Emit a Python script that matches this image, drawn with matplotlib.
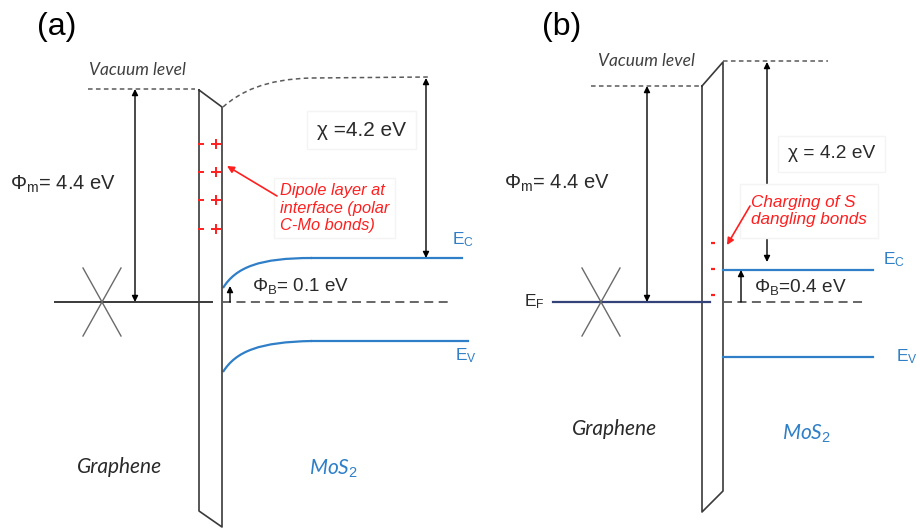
import matplotlib
matplotlib.use("Agg")
import matplotlib.pyplot as plt
from matplotlib.path import Path
from matplotlib.patches import PathPatch

plt.rcParams['font.family'] = ['Liberation Sans', 'DejaVu Sans']
plt.rcParams['mathtext.fontset'] = 'custom'
plt.rcParams['mathtext.rm'] = 'Liberation Sans'
plt.rcParams['mathtext.it'] = 'Liberation Sans:italic'

# ---------------- data (schematic geometry, pixel units) -------------
panel_labels = ["(a)", "(b)"]
panel_label_xy = [(57, 27), (562, 27)]

# energy values shown on the diagram
phi_m_values = [4.4, 4.4]
chi_values = [4.2, 4.2]
phi_b_values = [0.1, 0.4]

# panel (a)
a_vac_left_x = [88, 195]
a_vac_left_y = [89, 89]
a_slab_x = [199, 199, 222, 222, 199]
a_slab_y = [90, 511, 527, 107, 90]
a_vac_curve = [(223, 107), (240, 92), (265, 79), (312, 78)]
a_vac_flat_x = [312, 428]
a_vac_flat_y = [78, 77]
a_ec_curve = [(223, 288), (236, 267), (260, 258), (312, 258)]
a_ec_flat_x = [312, 462]
a_ec_flat_y = [258, 258]
a_ev_curve = [(223, 372), (236, 351), (260, 342), (312, 341)]
a_ev_flat_x = [312, 468]
a_ev_flat_y = [341, 341]
a_fermi_solid_x = [55, 212]
a_fermi_dash_x = [222, 449]
a_fermi_y = 302
a_cone_center = (102, 302)
a_phim_arrow = (135, 89, 302)
a_chi_arrow = (426, 78, 258)
a_phib_arrow = (230, 302, 286)
a_charge_y = [144, 172, 200, 229]

# panel (b)
b_vac_left_x = [591, 701]
b_vac_left_y = [86, 86]
b_slab_x = [702, 702, 723, 723, 702]
b_slab_y = [86, 512, 491, 62, 86]
b_vac_right_x = [723, 828]
b_vac_right_y = [61, 61]
b_ec_x = [723, 873]
b_ec_y = [270, 270]
b_ev_x = [723, 873]
b_ev_y = [357, 357]
b_fermi_solid_x = [553, 710]
b_fermi_dash_x = [723, 866]
b_fermi_y = 302
b_cone_center = (601, 302)
b_phim_arrow = (647, 86, 302)
b_chi_arrow = (767, 62, 262)
b_phib_arrow = (741, 302, 270)
b_charge_y = [243, 269, 295]

# ---------------- styles -------------
BLACK = '#3a3a3a'
GRAY = '#5a5a5a'
BLUE = '#2f7fc8'
RED = '#ff1f1f'
NAVY = '#34427a'
TXT = '#2a2a2a'
BOXEDGE = '#f4f4f4'

fig = plt.figure(figsize=(9.17, 5.28), dpi=100)
ax = fig.add_axes([0, 0, 1, 1])
ax.set_xlim(0, 917)
ax.set_ylim(528, 0)
ax.axis('off')


def bezier(pts, **kw):
    codes = [Path.MOVETO, Path.CURVE4, Path.CURVE4, Path.CURVE4]
    ax.add_patch(PathPatch(Path(pts, codes), fill=False, **kw))


def darrow(x, y0, y1, both=True):
    style = '<|-|>' if both else '-|>'
    ax.annotate('', xy=(x, y1), xytext=(x, y0),
                arrowprops=dict(arrowstyle=style, color='black', lw=1.0,
                                mutation_scale=9, shrinkA=0, shrinkB=0))


def cone(c):
    cx, cy = c
    ax.plot([cx - 19, cx + 19], [cy - 34, cy + 34], color='#6a6a6a', lw=1.0)
    ax.plot([cx - 19, cx + 19], [cy + 34, cy - 34], color='#6a6a6a', lw=1.0)


# panel labels
for lab, (x, y) in zip(panel_labels, panel_label_xy):
    ax.text(x, y, lab, fontsize=23, ha='center', va='center', color='black')

# ---------- panel (a) ----------
ax.plot(a_vac_left_x, a_vac_left_y, ls=(0, (3, 2.2)), color=GRAY, lw=1.1)
ax.plot(a_slab_x, a_slab_y, color=BLACK, lw=1.2)
bezier(a_vac_curve, ls=(0, (3, 2.2)), edgecolor=GRAY, lw=1.1)
ax.plot(a_vac_flat_x, a_vac_flat_y, ls=(0, (3, 2.2)), color=GRAY, lw=1.1)
bezier(a_ec_curve, edgecolor=BLUE, lw=1.6)
ax.plot(a_ec_flat_x, a_ec_flat_y, color=BLUE, lw=1.6)
bezier(a_ev_curve, edgecolor=BLUE, lw=1.6)
ax.plot(a_ev_flat_x, a_ev_flat_y, color=BLUE, lw=1.6)
ax.plot(a_fermi_solid_x, [a_fermi_y] * 2, color=BLACK, lw=1.4)
ax.plot(a_fermi_dash_x, [a_fermi_y] * 2, ls=(0, (5, 3)), color=GRAY, lw=1.3)
cone(a_cone_center)
darrow(a_phim_arrow[0], a_phim_arrow[1], a_phim_arrow[2])
darrow(a_chi_arrow[0], a_chi_arrow[1], a_chi_arrow[2])
darrow(a_phib_arrow[0], a_phib_arrow[1], a_phib_arrow[2], both=False)
for y in a_charge_y:
    ax.plot([198, 204], [y, y], color=RED, lw=1.4, solid_capstyle='butt')
    ax.plot([211, 221], [y, y], color=RED, lw=1.4, solid_capstyle='butt')
    ax.plot([216, 216], [y - 5, y + 5], color=RED, lw=1.4, solid_capstyle='butt')

ax.text(137, 70, 'Vacuum level', fontsize=12.5, family='Lato', style='italic',
        color='#404040', ha='center', va='center')
ax.text(10, 184, r'$\Phi_{\mathrm{m}}$= ' + f'{phi_m_values[0]} eV', fontsize=14.5,
        color=TXT, ha='left', va='center')
ax.text(317, 130, 'χ =' + f'{chi_values[0]} eV', fontsize=15,
        color=TXT, ha='left', va='center',
        bbox=dict(facecolor='white', edgecolor=BOXEDGE, pad=7))
ax.text(252, 286, r'$\Phi_{\mathrm{B}}$= ' + f'{phi_b_values[0]} eV', fontsize=13.6,
        color=TXT, ha='left', va='center')
ax.text(280, 208, 'Dipole layer at\ninterface (polar\nC-Mo bonds)', fontsize=11.8,
        style='italic', color=RED, ha='left', va='center', linespacing=1.2,
        bbox=dict(facecolor='white', edgecolor=BOXEDGE, pad=4))
ax.annotate('', xy=(227, 166), xytext=(277, 196),
            arrowprops=dict(arrowstyle='-|>', color=RED, lw=1.2,
                            mutation_scale=10, shrinkA=0, shrinkB=0))
ax.text(452, 240, r'E$_{\mathrm{C}}$', fontsize=12.5, color=BLUE, ha='left', va='center')
ax.text(455, 356, r'E$_{\mathrm{V}}$', fontsize=12.5, color=BLUE, ha='left', va='center')
ax.text(120, 467, 'Graphene', fontsize=15, family='Lato', style='italic',
        color=TXT, ha='center', va='center')
ax.text(334, 469, r'MoS$_2$', fontsize=15, family='Lato', style='italic',
        color=BLUE, ha='center', va='center')

# ---------- panel (b) ----------
ax.plot(b_vac_left_x, b_vac_left_y, ls=(0, (3, 2.2)), color=GRAY, lw=1.1)
ax.plot(b_vac_right_x, b_vac_right_y, ls=(0, (3, 2.2)), color=GRAY, lw=1.1)
ax.plot(b_slab_x, b_slab_y, color=BLACK, lw=1.2)
ax.plot(b_ec_x, b_ec_y, color=BLUE, lw=1.6)
ax.plot(b_ev_x, b_ev_y, color=BLUE, lw=1.6)
ax.plot(b_fermi_solid_x, [b_fermi_y] * 2, color=NAVY, lw=1.6)
ax.plot(b_fermi_dash_x, [b_fermi_y] * 2, ls=(0, (5, 3)), color=GRAY, lw=1.3)
cone(b_cone_center)
darrow(b_phim_arrow[0], b_phim_arrow[1], b_phim_arrow[2])
darrow(b_chi_arrow[0], b_chi_arrow[1], b_chi_arrow[2])
darrow(b_phib_arrow[0], b_phib_arrow[1], b_phib_arrow[2], both=False)
for y in b_charge_y:
    ax.plot([711, 715], [y, y], color=RED, lw=1.6, solid_capstyle='butt')

ax.text(646, 61, 'Vacuum level', fontsize=12.5, family='Lato', style='italic',
        color='#404040', ha='center', va='center')
ax.text(504, 183, r'$\Phi_{\mathrm{m}}$= ' + f'{phi_m_values[1]} eV', fontsize=14.5,
        color=TXT, ha='left', va='center')
ax.text(788, 154, 'χ = ' + f'{chi_values[1]} eV', fontsize=13.8,
        color=TXT, ha='left', va='center',
        bbox=dict(facecolor='white', edgecolor=BOXEDGE, pad=7))
ax.text(751, 211, 'Charging of S\ndangling bonds', fontsize=12.3,
        style='italic', color=RED, ha='left', va='center', linespacing=1.15,
        bbox=dict(facecolor='white', edgecolor=BOXEDGE, pad=8), zorder=5)
ax.annotate('', xy=(727, 245), xytext=(750, 206),
            arrowprops=dict(arrowstyle='-|>', color=RED, lw=1.2,
                            mutation_scale=10, shrinkA=0, shrinkB=0), zorder=6)
ax.text(754, 287, r'$\Phi_{\mathrm{B}}$=' + f'{phi_b_values[1]} eV', fontsize=13.7,
        color=TXT, ha='left', va='center')
ax.text(883, 260, r'E$_{\mathrm{C}}$', fontsize=12.5, color=BLUE, ha='left', va='center')
ax.text(896, 357, r'E$_{\mathrm{V}}$', fontsize=12.5, color=BLUE, ha='left', va='center')
ax.text(524, 302, r'E$_{\mathrm{F}}$', fontsize=12.5, color=TXT, ha='left', va='center')
ax.text(615, 429, 'Graphene', fontsize=15, family='Lato', style='italic',
        color=TXT, ha='center', va='center')
ax.text(807, 434, r'MoS$_2$', fontsize=15, family='Lato', style='italic',
        color=BLUE, ha='center', va='center')

fig.savefig('out.png', dpi=100)
